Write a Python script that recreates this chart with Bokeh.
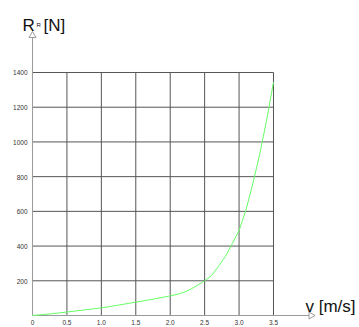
import math
from bokeh.plotting import figure
from bokeh.models import Range1d, ColumnDataSource
from bokeh.core.properties import value
from bokeh.embed import file_html
from bokeh.resources import INLINE

# data
v = [0.0, 0.25, 0.5, 0.75, 1.0, 1.25, 1.5, 1.75, 2.0, 2.1, 2.2, 2.3, 2.4, 2.5,
     2.6, 2.7, 2.8, 2.9, 3.0, 3.1, 3.2, 3.3, 3.4, 3.5]
rr = [0, 9, 20, 32, 44, 60, 77, 94, 113, 122, 134, 152, 175, 200,
      230, 282, 340, 413, 490, 608, 760, 930, 1125, 1345]
x_ticks = [0.0, 0.5, 1.0, 1.5, 2.0, 2.5, 3.0, 3.5]
x_tick_labels = ["0", "0.5", "1.0", "1.5", "2.0", "2.5", "3.0", "3.5"]
y_ticks = [200, 400, 600, 800, 1000, 1200, 1400]
y_tick_labels = ["200", "400", "600", "800", "1000", "1200", "1400"]
x_axis_end = 4.045
y_axis_end = 1613

FONT = "Liberation Sans"

p = figure(width=359, height=327, output_backend="svg", toolbar_location=None,
           x_range=Range1d(-0.4647, 4.749), y_range=Range1d(-69.1, 1814.8),
           x_axis_location=None, y_axis_location=None,
           min_border=0, min_border_left=0, min_border_right=0,
           min_border_top=0, min_border_bottom=0)
p.outline_line_color = None
p.xgrid.visible = False
p.ygrid.visible = False
p.background_fill_color = "white"
p.border_fill_color = "white"

xmax = x_ticks[-1]
ymax = y_ticks[-1]
grid_col = "#555555"
# vertical grid lines
p.segment(x0=x_ticks[1:], y0=[0] * (len(x_ticks) - 1), x1=x_ticks[1:], y1=[ymax] * (len(x_ticks) - 1),
          line_color=grid_col, line_width=1)
# horizontal grid lines
p.segment(x0=[0] * len(y_ticks), y0=y_ticks, x1=[xmax] * len(y_ticks), y1=y_ticks,
          line_color=grid_col, line_width=1)

# axes with hollow arrow heads
axis_col = "#9a9a9a"
p.segment(x0=[0, 0], y0=[0, 0], x1=[x_axis_end, 0], y1=[0, y_axis_end],
          line_color=axis_col, line_width=1)
p.scatter(x=[x_axis_end, 0], y=[0, y_axis_end], marker="triangle", size=7,
          angle=[-math.pi / 2, 0], fill_color="white", line_color=axis_col, line_width=1)

# curve
p.line(v, rr, line_color="#66ff66", line_width=1)

# x tick labels
xs = ColumnDataSource(dict(x=x_ticks, y=[0] * len(x_ticks), t=x_tick_labels))
p.text(x="x", y="y", text="t", source=xs, y_offset=7, text_align="center",
       text_baseline="middle", text_font=value(FONT), text_font_size="6.5px",
       text_color="#333333")
# y tick labels
ys = ColumnDataSource(dict(x=[0] * len(y_ticks), y=y_ticks, t=y_tick_labels))
p.text(x="x", y="y", text="t", source=ys, x_offset=-5, y_offset=0.5, text_align="right",
       text_baseline="middle", text_font=value(FONT), text_font_size="6.5px",
       text_color="#333333")

# axis titles
tsrc = ColumnDataSource(dict(x=[-0.145, 0.16, 3.965], y=[1670, 1670, 52],
                             t=["R", "[N]", "v [m/s]"]))
p.text(x="x", y="y", text="t", source=tsrc, text_align="left", text_baseline="alphabetic",
       text_font=value(FONT), text_font_size="17px", text_color="#111111")
p.text(x=[0.058], y=[1676], text=["R"], text_align="left", text_baseline="alphabetic",
       text_font=value(FONT), text_font_size="6px", text_color="#111111")

open("out.html", "w").write(file_html(p, INLINE))
